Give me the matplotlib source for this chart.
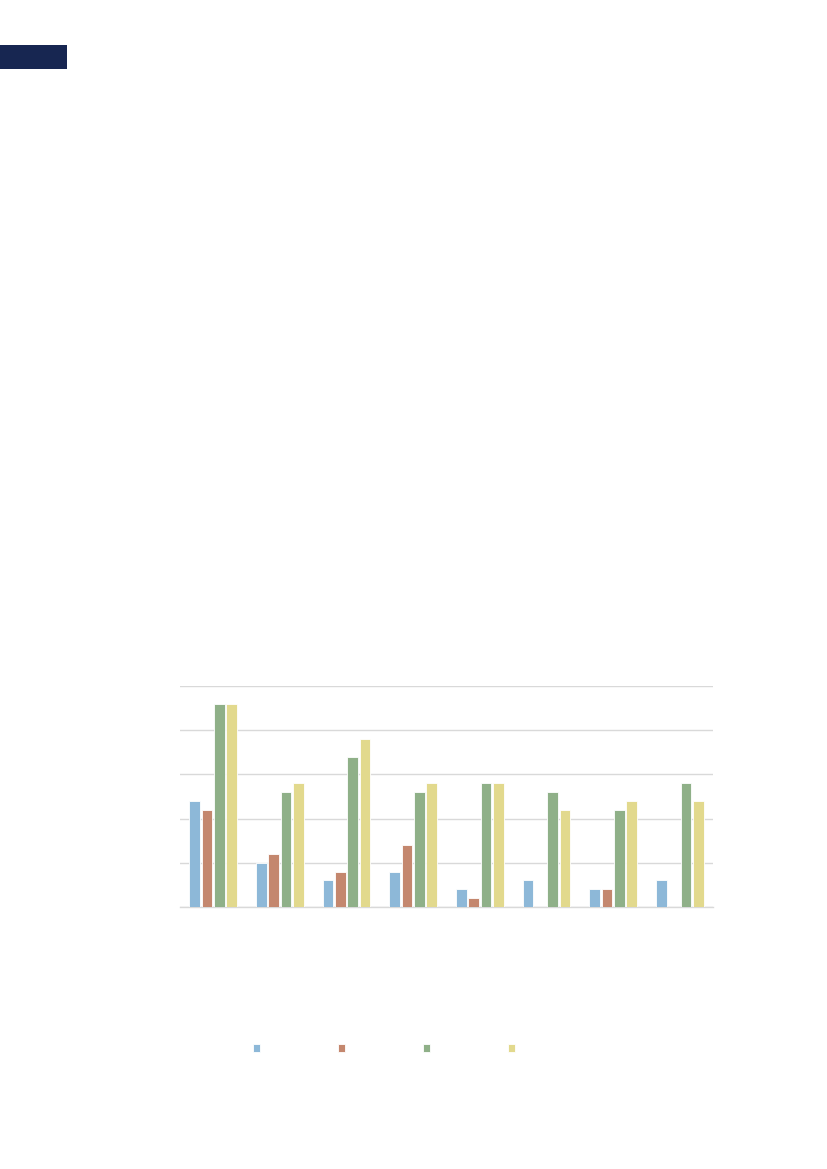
import numpy as np
import matplotlib
matplotlib.use('Agg')
import matplotlib.pyplot as plt
from matplotlib.patches import Rectangle

# 数据，从图上读出来的（图里没有文字，所以类别名只是占位）
categories = ['1', '2', '3', '4', '5', '6', '7', '8']
series1 = [12, 5, 3, 4, 2, 3, 2, 3]
series2 = [11, 6, 4, 7, 1, 0, 2, 0]
series3 = [23, 13, 17, 13, 14, 13, 11, 14]
series4 = [23, 14, 19, 14, 14, 11, 12, 12]
yticks = [0, 5, 10, 15, 20, 25]

colors = ['#8db8d8', '#c4876e', '#8fb088', '#e2d98d']

fig = plt.figure(figsize=(8.27, 11.69), dpi=100)

# 左上角的深蓝色块
fig.patches.append(Rectangle((0, 1 - 69 / 1169), 67 / 827, 24 / 1169,
                             transform=fig.transFigure, facecolor='#172651',
                             edgecolor='none'))

ax = fig.add_axes([180 / 827, 1 - 907 / 1169, 533 / 827, 221 / 1169])

x = np.arange(len(categories))
w = 0.16
step = 0.185
handles = []
for i, vals in enumerate([series1, series2, series3, series4]):
    b = ax.bar(x + (i - 1.5) * step, vals, width=w, color=colors[i],
               edgecolor='white', linewidth=0.6, zorder=3)
    handles.append(b)

ax.set_xlim(-0.5, len(categories) - 0.5)
ax.set_ylim(0, 25)
ax.set_yticks(yticks)
ax.yaxis.grid(True, color='#d9d9d9', linewidth=1)
ax.tick_params(left=False, bottom=False, labelleft=False, labelbottom=False)
for s in ['top', 'right', 'left']:
    ax.spines[s].set_visible(False)
ax.spines['bottom'].set_color('#d9d9d9')
ax.spines['bottom'].set_linewidth(1)

fig.legend(handles, [''] * 4, loc='center', bbox_to_anchor=(384 / 827, 1 - 1049 / 1169),
           ncol=4, frameon=False, fontsize=10, handlelength=0.5, handleheight=0.5,
           handletextpad=0, columnspacing=5.6)

fig.savefig('out.png', dpi=100)
